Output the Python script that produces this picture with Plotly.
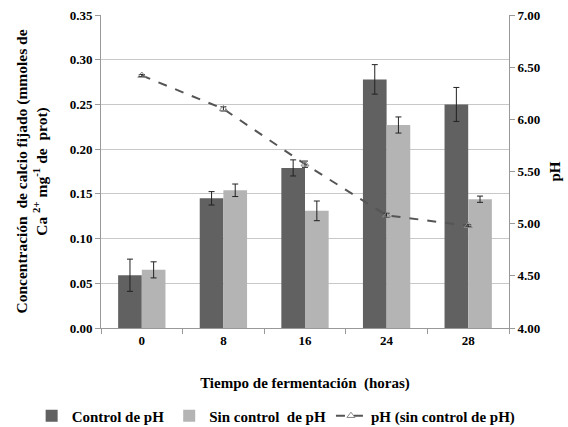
import plotly.graph_objects as go

categorias = ["0", "8", "16", "24", "28"]
control_ph = [0.059, 0.145, 0.179, 0.278, 0.250]
control_ph_err = [0.018, 0.0075, 0.009, 0.0165, 0.019]
sin_control = [0.065, 0.154, 0.131, 0.227, 0.144]
sin_control_err = [0.009, 0.007, 0.011, 0.009, 0.0035]
ph_sin_control = [6.42, 6.10, 5.57, 5.08, 4.98]
ph_err = [0.01, 0.02, 0.03, 0.02, 0.01]

font_family = "Times New Roman, Liberation Serif, DejaVu Serif, serif"
err_style = dict(type="data", thickness=1, width=3, color="#222222", visible=True)

fig = go.Figure()
fig.add_trace(go.Bar(
    x=categorias, y=control_ph, name="Control de pH",
    marker=dict(color="#616161", line=dict(width=0)),
    error_y=dict(array=control_ph_err, **err_style),
))
fig.add_trace(go.Bar(
    x=categorias, y=sin_control, name="Sin control  de pH",
    marker=dict(color="#b4b4b4", line=dict(width=0)),
    error_y=dict(array=sin_control_err, **err_style),
))
fig.add_trace(go.Scatter(
    x=categorias, y=ph_sin_control, name="pH (sin control de pH)", yaxis="y2",
    mode="lines+markers",
    line=dict(color="#555555", width=2, dash="dash"),
    marker=dict(symbol="triangle-up-open", size=7, color="#888888", line=dict(width=1)),
    error_y=dict(array=ph_err, type="data", thickness=1, width=3, color="#222222"),
))

bold = dict(family=font_family, color="black", weight="bold")

fig.update_layout(
    width=568, height=427,
    margin=dict(l=101, r=59, t=15, b=99, autoexpand=False),
    paper_bgcolor="white", plot_bgcolor="white",
    barmode="group", bargap=0.42, bargroupgap=0,
    font=dict(family=font_family, size=13, color="black"),
    showlegend=True,
    legend=dict(orientation="h", x=-0.17, xanchor="left", y=-0.281, yanchor="middle",
                font=dict(size=15, **bold),
                itemwidth=30, traceorder="normal", bgcolor="rgba(0,0,0,0)"),
    xaxis=dict(
        type="category", showline=True, linecolor="#999999", linewidth=1,
        ticks="outside", tickson="boundaries", ticklen=5, tickcolor="#999999",
        tickfont=dict(size=13, **bold),
        title=dict(text="Tiempo de fermentación  (horas)", standoff=30,
                   font=dict(size=15, **bold)),
    ),
    yaxis=dict(
        range=[0, 0.35], dtick=0.05, tickformat=".2f",
        showgrid=True, gridcolor="#c8c8c8", gridwidth=1,
        showline=True, linecolor="#999999", linewidth=1,
        ticks="outside", ticklen=5, tickcolor="#999999", zeroline=False,
        tickfont=dict(size=13, **bold),
        title=dict(text="Concentración  de calcio fijado (mmoles de<br>Ca <sup>2+</sup> mg<sup>-1</sup> de  prot)",
                   standoff=18, font=dict(size=15.5, **bold)),
    ),
    yaxis2=dict(
        overlaying="y", side="right", range=[4, 7], dtick=0.5, tickformat=".2f",
        showgrid=False, showline=True, linecolor="#999999", linewidth=1,
        ticks="outside", ticklen=5, tickcolor="#999999", zeroline=False,
        tickfont=dict(size=13, **bold),
        title=dict(text="pH", standoff=10, font=dict(size=15, **bold)),
    ),
)

fig.write_html("out.html")
